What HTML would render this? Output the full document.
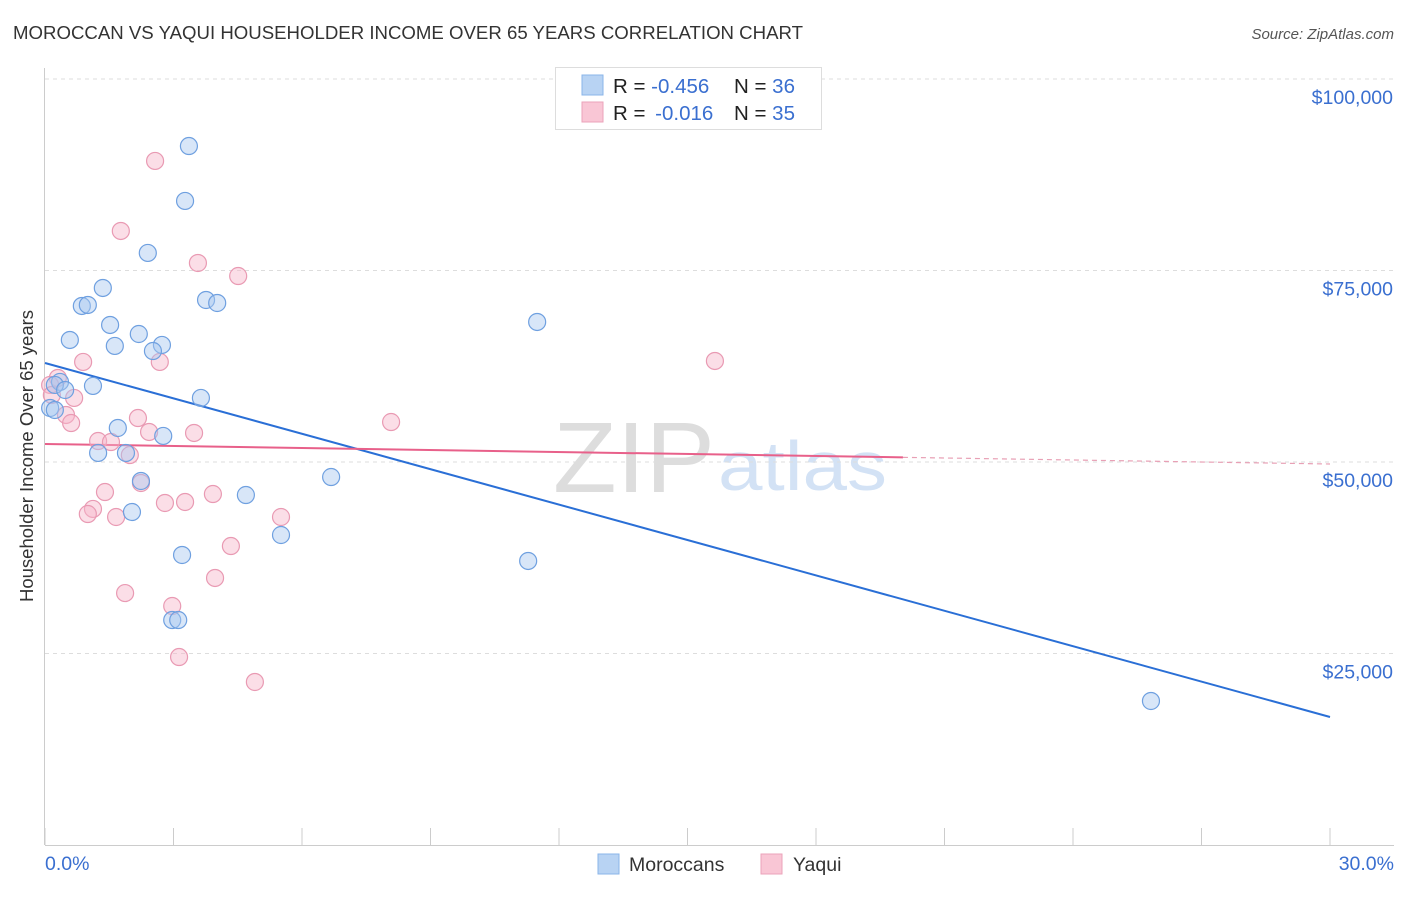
<!DOCTYPE html>
<html><head><meta charset="utf-8">
<style>
body{margin:0;background:#fff;font-family:"Liberation Sans",sans-serif;}
svg text{font-family:"Liberation Sans",sans-serif;}
</style></head>
<body>
<svg id="chart" width="1406" height="892" viewBox="0 0 1406 892" xmlns="http://www.w3.org/2000/svg">
<text x="13" y="39" font-size="18" fill="#333" textLength="790" lengthAdjust="spacingAndGlyphs">MOROCCAN VS YAQUI HOUSEHOLDER INCOME OVER 65 YEARS CORRELATION CHART</text>
<text x="1394" y="39" font-size="15" fill="#555" text-anchor="end" font-style="italic">Source: ZipAtlas.com</text>
<g>
<text x="553" y="492" font-size="100" fill="#ddd" font-family="Liberation Serif, serif" textLength="162" lengthAdjust="spacingAndGlyphs">ZIP</text>
<text x="718" y="490" font-size="70" fill="#d3e2f5" textLength="169" lengthAdjust="spacingAndGlyphs">atlas</text>
</g>
<g id="grid"></g>
<g id="axes"></g>
<g id="lines"></g>
<g id="points"></g>
<text transform="translate(33,456) rotate(-90)" font-size="18.5" fill="#333" text-anchor="middle">Householder Income Over 65 years</text>
<text x="45" y="870" font-size="19.5" fill="#3a6fd0">0.0%</text>
<text x="1394" y="870" font-size="19.5" fill="#3a6fd0" text-anchor="end">30.0%</text>
<g>
<rect x="555.5" y="67.5" width="266" height="62" fill="#fff" stroke="#ddd"/>
<rect x="582" y="75" width="21" height="20" fill="#b8d3f3" stroke="#8ab4e8"/>
<rect x="582" y="102" width="21" height="20" fill="#f9c6d5" stroke="#eba3ba"/>
<text x="613" y="93" font-size="20.5" fill="#222">R = <tspan fill="#3a6fd0">-0.456</tspan><tspan x="734">N = </tspan><tspan fill="#3a6fd0">36</tspan></text>
<text x="613" y="120" font-size="20.5" fill="#222">R = <tspan fill="#3a6fd0" dx="4">-0.016</tspan><tspan x="734">N = </tspan><tspan fill="#3a6fd0">35</tspan></text>
</g>
<g>
<rect x="598" y="854" width="21" height="20" fill="#b8d3f3" stroke="#8ab4e8"/>
<text x="629" y="871" font-size="19.5" fill="#333">Moroccans</text>
<rect x="761" y="854" width="21" height="20" fill="#f9c6d5" stroke="#eba3ba"/>
<text x="793" y="871" font-size="19.5" fill="#333">Yaqui</text>
</g>
</svg>
<script>
const yTicks=[25000,50000,75000,100000];
const yTickLabels=["$25,000","$50,000","$75,000","$100,000"];
const xTicks=[0,3,6,9,12,15,18,21,24,27,30];
const blueX=[3.36,3.27,2.40,1.35,0.86,1.00,3.76,4.02,1.52,2.19,0.58,1.63,2.73,2.52,11.49,0.35,0.23,1.12,0.47,3.64,0.12,0.23,1.70,2.76,1.24,1.89,2.24,6.68,4.69,2.03,5.51,3.20,11.28,2.97,3.11,25.82];
const blueY=[91250,84080,77290,72720,70370,70500,71150,70760,67890,66710,65930,65150,65280,64490,68280,60450,60060,59930,59400,58360,57050,56790,54440,53400,51180,51180,47520,48040,45690,43470,40470,37860,37080,29370,29370,18800];
const pinkX=[2.57,1.77,3.57,4.51,0.89,2.68,15.64,0.30,0.12,0.68,0.49,0.61,2.17,8.08,2.43,3.48,1.24,1.54,1.98,2.24,1.40,3.92,2.80,3.27,1.12,1.00,1.66,5.51,4.34,1.87,3.97,2.97,3.13,4.90,0.16];
const pinkY=[89300,80160,75980,74280,63060,63060,63190,60970,60060,58360,56140,55090,55740,55220,53920,53790,52740,52610,50910,47260,46080,45820,44650,44780,43870,43210,42820,42820,39030,32890,34860,31200,24540,21280,58750];
const blueTrend=[62925,16710];
const pinkTrend=[52350,49740];
const pinkSolidEnd=20.03;

const NS="http://www.w3.org/2000/svg";
const X0=45,X1=1330,Y0=845,Y100=79;
const sx=v=>X0+(v/30)*(X1-X0);
const sy=v=>Y0-(v/100000)*(Y0-Y100);
function mk(tag,attrs,parent){const e=document.createElementNS(NS,tag);for(const k in attrs)e.setAttribute(k,attrs[k]);document.getElementById(parent).appendChild(e);return e;}

yTicks.forEach((t,i)=>{
  const g=mk('line',{x1:45,x2:1394,y1:sy(t),y2:sy(t),stroke:'#ddd','stroke-dasharray':'4,4'},'grid');
  
  
  const l=mk('text',{x:1393,y:sy(t)+25,'font-size':19.5,fill:'#3a6fd0','text-anchor':'end'},'grid');
  l.textContent=yTickLabels[i];
  
  
});
const ax=mk('line',{x1:45,x2:1394,y1:845.5,y2:845.5,stroke:'#ccc'},'axes');


const ay=mk('line',{x1:44.5,x2:44.5,y1:68,y2:845,stroke:'#ccc'},'axes');


xTicks.forEach(t=>{
  const tk=mk('line',{x1:sx(t),x2:sx(t),y1:828,y2:845,stroke:'#ccc'},'axes');
  
  
});

function dots(xs,ys,fill,stroke,name){
  xs.forEach((x,i)=>{
    const c=mk('circle',{cx:sx(x),cy:sy(ys[i]),r:8.5,fill:fill,'fill-opacity':0.45,stroke:stroke,'stroke-width':1.2},'points');
    
    
  });
}
dots(pinkX,pinkY,'#f7b6ca','#e99ab3','yaqui-point');
dots(blueX,blueY,'#a9c8f0','#6fa0e0','moroccan-point');

const bl=mk('line',{x1:sx(0),y1:sy(blueTrend[0]),x2:sx(30),y2:sy(blueTrend[1]),stroke:'#2a6fd6','stroke-width':2},'lines');


const pAt=x=>pinkTrend[0]+(pinkTrend[1]-pinkTrend[0])*x/30;
const pl=mk('line',{x1:sx(0),y1:sy(pinkTrend[0]),x2:sx(pinkSolidEnd),y2:sy(pAt(pinkSolidEnd)),stroke:'#e8608a','stroke-width':2},'lines');


const pd=mk('line',{x1:sx(pinkSolidEnd),y1:sy(pAt(pinkSolidEnd)),x2:sx(30),y2:sy(pinkTrend[1]),stroke:'#e8a0b5','stroke-width':1.2,'stroke-dasharray':'5,4'},'lines');


</script>
</body></html>
